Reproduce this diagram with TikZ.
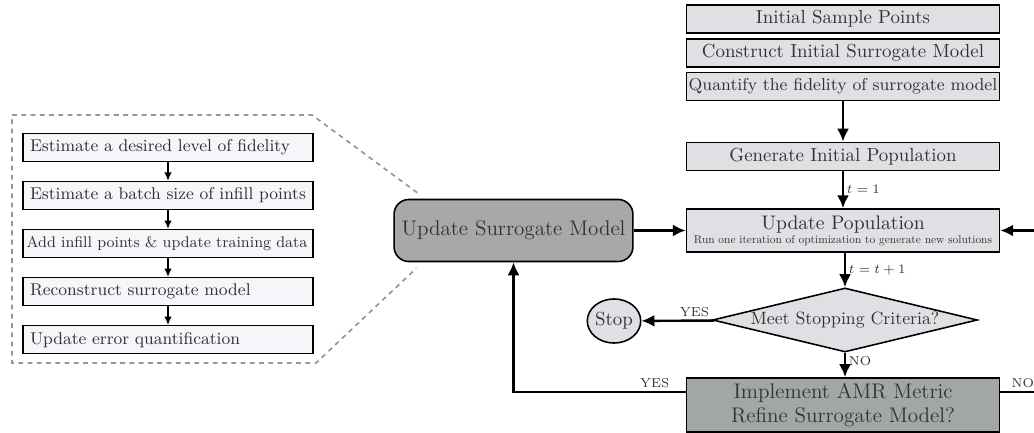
\documentclass[tikz,border=0pt]{standalone}
\usepackage{amsmath, amssymb}
\usepackage{graphicx}
\usepackage{tikz}
\usetikzlibrary{shapes,arrows,arrows.meta,positioning,calc}

\definecolor{boxgray}{RGB}{224,224,228}
\definecolor{modelgray}{RGB}{168,168,168}
\definecolor{amrgray}{RGB}{163,166,166}
\definecolor{stepfill}{RGB}{245,246,249}
\definecolor{inkgray}{RGB}{50,50,50}
\definecolor{zoomgray}{RGB}{150,150,150}

\begin{document}
\begin{tikzpicture}[
    x=0.54pt, y=-0.54pt,
    block/.style={rectangle, draw, line width=0.85pt, fill=boxgray, text=inkgray, minimum width=169pt, minimum height=15.2pt, inner sep=0pt, align=center, font=\fontsize{10.2}{12}\selectfont},
    bigblock/.style={block, font=\fontsize{11.4}{13}\selectfont},
    modelbox/.style={rectangle, draw, line width=0.85pt, rounded corners=8pt, fill=modelgray, text=inkgray, minimum width=129pt, minimum height=33.5pt, inner sep=0pt, font=\fontsize{11.4}{13}\selectfont},
    stepbox/.style={rectangle, draw, line width=0.75pt, fill=stepfill, text=inkgray, text width=149pt, align=left, inner xsep=3.8pt, inner ysep=0pt, minimum height=15.2pt, font=\fontsize{9.2}{10}\selectfont},
    decision/.style={diamond, draw, line width=0.85pt, fill=boxgray, text=inkgray, aspect=4.1, minimum width=143pt, minimum height=34.6pt, inner sep=0pt, font=\fontsize{9.6}{11}\selectfont},
    stopnode/.style={ellipse, draw, line width=0.85pt, fill=boxgray, text=inkgray, minimum width=27pt, minimum height=23.8pt, inner sep=0pt, font=\fontsize{10.2}{12}\selectfont},
    flowarrow/.style={line width=1.3pt, -{Latex[length=7pt,width=6.5pt]}},
    thinarrow/.style={line width=0.65pt, -{Latex[length=4.5pt,width=4pt]}},
    zoomline/.style={draw=zoomgray, line width=0.9pt, dash pattern=on 2.6pt off 2.4pt},
    lbl/.style={text=inkgray, font=\scriptsize, inner sep=1.5pt}
]
    \useasboundingbox (0,0) rectangle (1034,433);

    % main loop
    \node [block] (init) at (843,19) {Initial Sample Points};
    \node [block, below=2.2pt of init] (cons) {Construct Initial Surrogate Model};
    \node [block, below=2.2pt of cons, font=\fontsize{9.3}{11}\selectfont] (quant) {Quantify the fidelity of surrogate model};
    \node [block] (gen) at (843,156.5) {Generate Initial Population};
    \node [block, minimum height=23.2pt] (pop) at (843,230.5) {{\fontsize{10.6}{12}\selectfont Update Population}\\[-4.4pt]\resizebox{161pt}{!}{Run one iteration of optimization to generate new solutions}};
    \node [decision] (crit) at (845,320) {Meet Stopping Criteria?};
    \node [stopnode] (stop) at (614,321) {Stop};
    \node [bigblock, fill=amrgray, minimum height=29.2pt] (amr) at (843,405) {Implement AMR Metric\\Refine Surrogate Model?};
    \node [modelbox] (usm) at (513.5,230.5) {Update Surrogate Model};

    % surrogate update steps
    \node [stepbox] (fid) at (168,147.5) {Estimate a desired level of fidelity};
    \node [stepbox, below=10pt of fid] (batch) {Estimate a batch size of infill points};
    \node [stepbox, below=10pt of batch, inner xsep=2pt, text width=152.6pt] (add) {\resizebox{151.5pt}{!}{Add infill points \& update training data}};
    \node [stepbox, below=10pt of add] (recon) {Reconstruct surrogate model};
    \node [stepbox, below=10pt of recon] (err) {Update error quantification};

    \draw [thinarrow] (fid) -- (batch);
    \draw [thinarrow] (batch) -- (add);
    \draw [thinarrow] (add) -- (recon);
    \draw [thinarrow] (recon) -- (err);

    \draw [zoomline] ($(usm.north west)+(24,-6)$) -- (312,115) -- (12,115) -- (12,363) -- (316,363) -- ($(usm.south west)+(23,6)$);

    % connectors
    \draw [flowarrow] (quant) -- (gen);
    \draw [flowarrow] (gen) -- node [lbl, right] {$t=1$} (pop);
    \draw [flowarrow] (usm) -- (pop);
    \draw [flowarrow] (pop.south -| crit.north) -- node [lbl, right] {$t=t+1$} (crit);
    \draw [flowarrow] (crit) -- node [lbl, above, pos=0.27] {YES} (stop);
    \draw [flowarrow] (crit.south) -- node [lbl, right, pos=0.35] {NO} (amr.north -| crit.south);
    \draw [flowarrow] ($(amr.west)+(0,-13)$) -| node [lbl, above, pos=0.09] {YES} (usm.south);
    \draw [flowarrow] ($(amr.east)+(0,-13)$) -- node [lbl, above] {NO} ++(45,0) |- (pop.east);
\end{tikzpicture}
\end{document}
